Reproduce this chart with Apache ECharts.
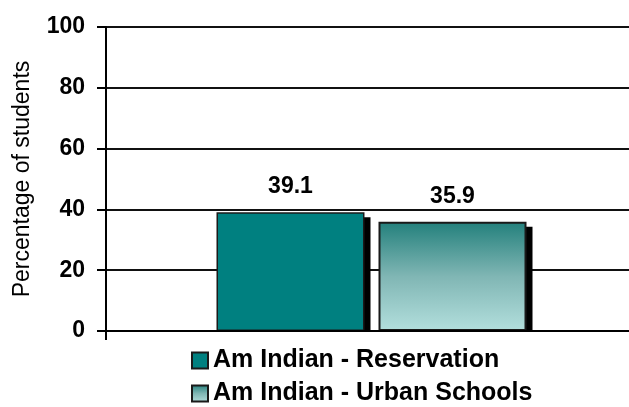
<!DOCTYPE html>
<html>
<head>
<meta charset="utf-8">
<script src="https://cdn.jsdelivr.net/npm/echarts@6/dist/echarts.min.js"></script>
<style>html,body{margin:0;padding:0;background:#fff}#c{width:629px;height:407px}</style>
</head>
<body>
<div id="c"></div>
<script>
var categories = ['All'];
var seriesNames = ['Am Indian - Reservation', 'Am Indian - Urban Schools'];
var reservationValues = [39.1];
var urbanValues = [35.9];
var yTicks = [0, 20, 40, 60, 80, 100];

var chart = echarts.init(document.getElementById('c'));
var BAR_W = 148, GAP = 14;
var allValues = [reservationValues, urbanValues];

function shadowRender(params, api) {
  var idx = params.dataIndex;
  var cx = api.coord([api.value(0), 0])[0];
  var base = api.coord([api.value(0), 0])[1];
  var total = BAR_W * 2 + GAP;
  var children = [];
  for (var s = 0; s < allValues.length; s++) {
    var top = api.coord([api.value(0), allValues[s][idx]])[1];
    var left = cx - total / 2 + s * (BAR_W + GAP);
    children.push({
      type: 'rect',
      shape: { x: left + 6, y: top + 5, width: BAR_W, height: base - top - 5 },
      style: { fill: '#000' }
    });
  }
  return { type: 'group', children: children };
}

var fontFam = 'Liberation Sans, Arial, sans-serif';
var legendText = { fontFamily: fontFam, fontWeight: 'bold', fontSize: 25, color: '#000' };
chart.setOption({
  animation: false,
  grid: { left: 106, right: -8, top: 27, bottom: 76, outerBoundsMode: 'none', containLabel: false },
  legend: [
    {
      left: 186, top: 343,
      itemWidth: 16, itemHeight: 16, icon: 'rect',
      data: [seriesNames[0]],
      textStyle: legendText
    },
    {
      left: 186, top: 376,
      itemWidth: 16, itemHeight: 16, icon: 'rect',
      data: [seriesNames[1]],
      textStyle: legendText
    }
  ],
  xAxis: {
    type: 'category',
    data: categories,
    axisLine: { lineStyle: { color: '#000', width: 2 } },
    axisTick: { show: true, length: 9, lineStyle: { color: '#000', width: 2 } },
    axisLabel: { show: false },
    splitLine: { show: false },
    z: 10
  },
  yAxis: {
    type: 'value',
    min: 0, max: 100, interval: 20,
    name: 'Percentage of students',
    nameLocation: 'middle',
    nameGap: 72,
    nameTextStyle: { fontFamily: fontFam, fontSize: 23, color: '#000' },
    axisLine: { show: true, lineStyle: { color: '#000', width: 2 } },
    axisTick: { show: true, length: 9, lineStyle: { color: '#000', width: 2 } },
    axisLabel: {
      margin: 21,
      fontFamily: fontFam, fontWeight: 'bold', fontSize: 23, color: '#000',
      formatter: function (v) { return yTicks.indexOf(v) >= 0 ? String(v) : ''; }
    },
    splitLine: { show: true, lineStyle: { color: '#111', width: 2 } }
  },
  series: [
    {
      type: 'custom',
      name: 'shadow',
      renderItem: shadowRender,
      data: categories.map(function (c, i) { return [i]; }),
      z: 1,
      silent: true,
      legendHoverLink: false
    },
    {
      type: 'bar',
      name: seriesNames[0],
      data: reservationValues,
      barWidth: BAR_W,
      barGap: (GAP / BAR_W * 100).toFixed(2) + '%',
      z: 3,
      itemStyle: { color: '#008080', borderColor: '#1a1a1a', borderWidth: 1.5 },
      label: {
        show: true, position: 'top', distance: 14,
        fontFamily: fontFam, fontWeight: 'bold', fontSize: 23, color: '#000'
      }
    },
    {
      type: 'bar',
      name: seriesNames[1],
      data: urbanValues,
      barWidth: BAR_W,
      z: 3,
      itemStyle: {
        color: new echarts.graphic.LinearGradient(0, 0, 0, 1, [
          { offset: 0, color: '#23807c' },
          { offset: 0.5, color: '#80b6b4' },
          { offset: 1, color: '#b3dfdd' }
        ]),
        borderColor: '#1a1a1a', borderWidth: 2
      },
      label: {
        show: true, position: 'top', distance: 14,
        fontFamily: fontFam, fontWeight: 'bold', fontSize: 23, color: '#000'
      }
    }
  ]
});
</script>
</body>
</html>
